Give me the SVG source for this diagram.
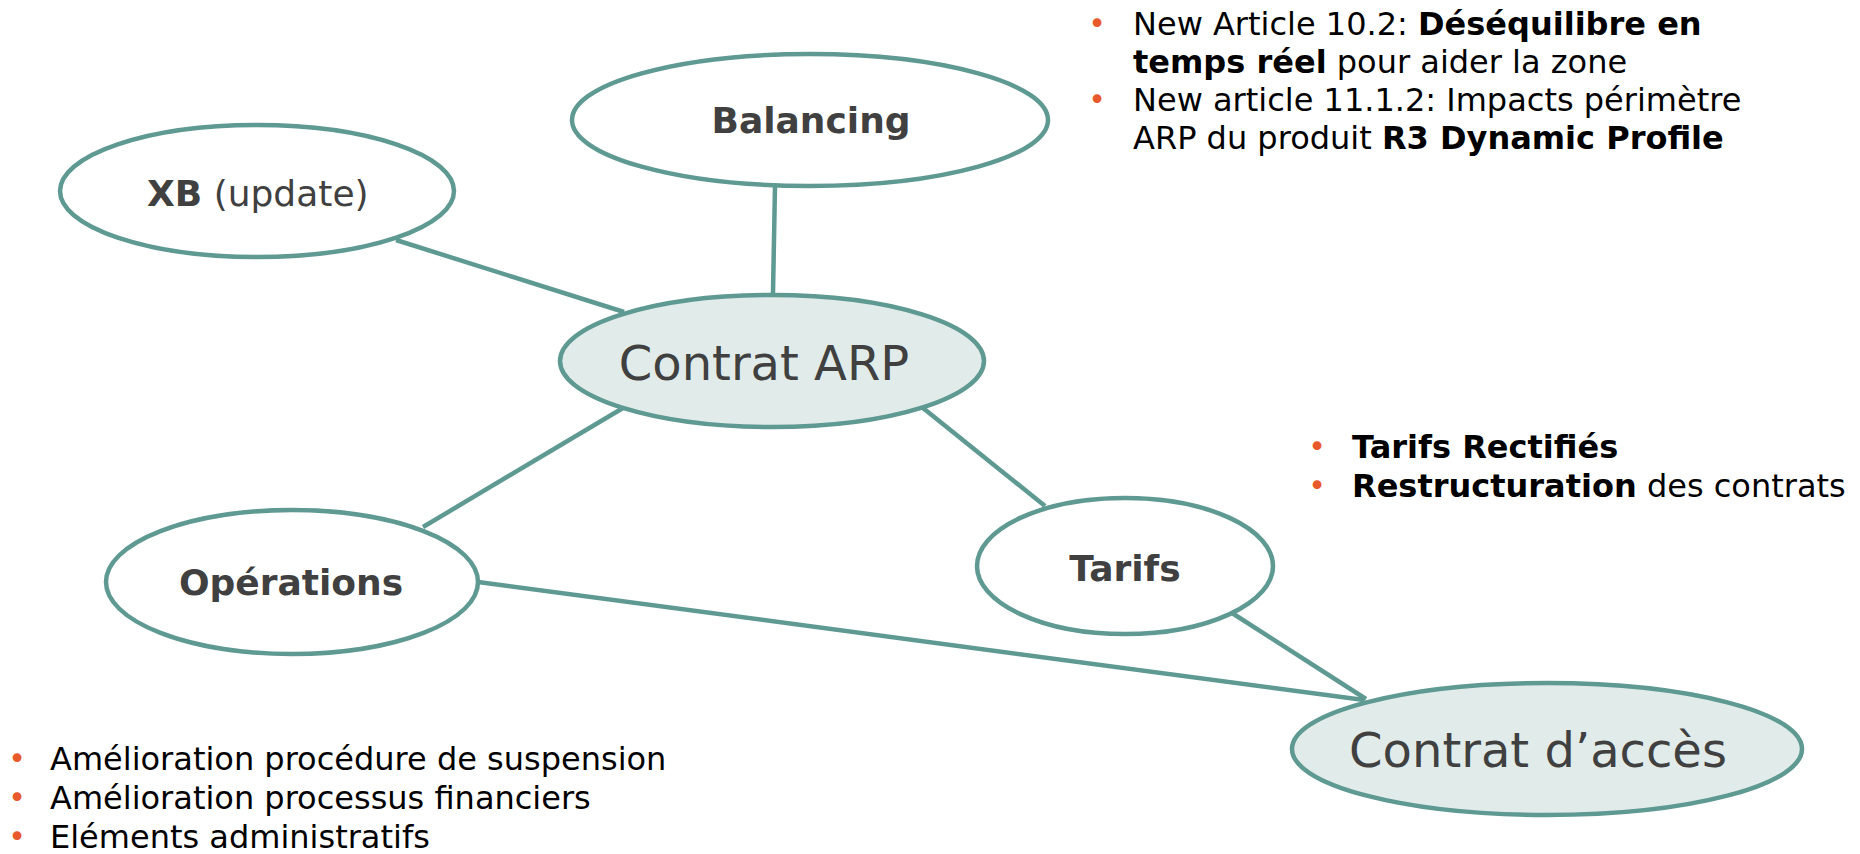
<svg xmlns="http://www.w3.org/2000/svg" width="1860" height="854" viewBox="0 0 1860 854">
<style>
.edge{stroke:#5e9992;stroke-width:4.5;fill:none}
.node{stroke:#5e9992;stroke-width:4.5;fill:#ffffff}
.core{fill:#e1ecea}
.lbl{font-family:"DejaVu Sans",Verdana,sans-serif;fill:#404040;font-size:36px;font-weight:bold}
.big{font-family:"DejaVu Sans",Verdana,sans-serif;fill:#404040;font-size:48px}
.reg{font-weight:normal}
.b{font-family:"DejaVu Sans",Verdana,sans-serif;font-size:32px;fill:#000000}
.bb{font-weight:bold}
.dot{font-family:"DejaVu Sans",Verdana,sans-serif;font-size:30px;fill:#e8592b}
</style>
<rect width="1860" height="854" fill="#ffffff"/>
<g id="connectors">
<line class="edge" x1="396" y1="240" x2="624" y2="312"/>
<line class="edge" x1="775" y1="186" x2="773" y2="293"/>
<line class="edge" x1="623" y1="408" x2="423" y2="527"/>
<line class="edge" x1="923" y1="408" x2="1045" y2="506"/>
<line class="edge" x1="478" y1="582" x2="1364" y2="700"/>
<line class="edge" x1="1232" y1="613" x2="1366" y2="699"/>
</g>
<g id="node-balancing">
<ellipse class="node" cx="810" cy="120" rx="238" ry="66"/>
<text class="lbl" x="811" y="133" text-anchor="middle">Balancing</text>
</g>
<g id="node-xb">
<ellipse class="node" cx="257" cy="191" rx="197" ry="66"/>
<text class="lbl" x="147" y="206">XB<tspan class="reg"> (update)</tspan></text>
</g>
<g id="node-contrat-arp">
<ellipse class="node core" cx="772" cy="361" rx="212" ry="66"/>
<text class="big" x="764" y="380" text-anchor="middle">Contrat ARP</text>
</g>
<g id="node-operations">
<ellipse class="node" cx="292" cy="582" rx="186" ry="72"/>
<text class="lbl" x="291" y="595" text-anchor="middle">Opérations</text>
</g>
<g id="node-tarifs">
<ellipse class="node" cx="1125" cy="566" rx="148" ry="68"/>
<text class="lbl" x="1125" y="581" text-anchor="middle">Tarifs</text>
</g>
<g id="node-contrat-acces">
<ellipse class="node core" cx="1547" cy="749" rx="255" ry="66"/>
<text class="big" x="1538" y="767" text-anchor="middle">Contrat d’accès</text>
</g>
<g id="notes-balancing">
<text class="dot" x="1097" y="34" text-anchor="middle">•</text>
<text class="b" x="1133" y="35">New Article 10.2: <tspan class="bb">Déséquilibre en</tspan></text>
<text class="b" x="1133" y="73"><tspan class="bb">temps réel</tspan> pour aider la zone</text>
<text class="dot" x="1097" y="110" text-anchor="middle">•</text>
<text class="b" x="1133" y="111">New article 11.1.2: Impacts périmètre</text>
<text class="b" x="1133" y="149">ARP du produit <tspan class="bb">R3 Dynamic Profile</tspan></text>
</g>
<g id="notes-tarifs">
<text class="dot" x="1317" y="457" text-anchor="middle">•</text>
<text class="b bb" x="1352" y="458">Tarifs Rectifiés</text>
<text class="dot" x="1317" y="496" text-anchor="middle">•</text>
<text class="b" x="1352" y="497"><tspan class="bb">Restructuration</tspan> des contrats</text>
</g>
<g id="notes-operations">
<text class="dot" x="17" y="769" text-anchor="middle">•</text>
<text class="b" x="50" y="770">Amélioration procédure de suspension</text>
<text class="dot" x="17" y="808" text-anchor="middle">•</text>
<text class="b" x="50" y="809">Amélioration processus financiers</text>
<text class="dot" x="17" y="847" text-anchor="middle">•</text>
<text class="b" x="50" y="848">Eléments administratifs</text>
</g>
</svg>
